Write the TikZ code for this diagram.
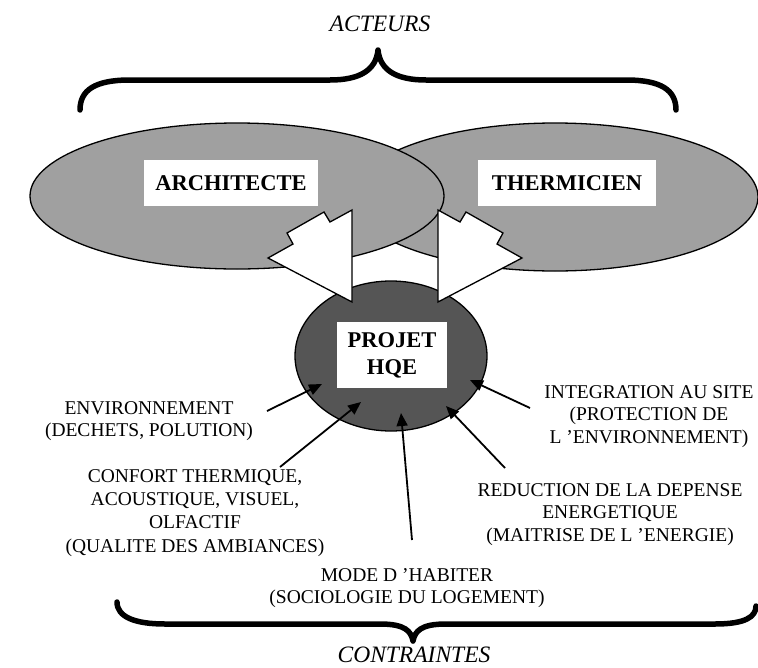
\documentclass[tikz,border=0pt]{standalone}
\usepackage{fontspec}
\setmainfont{Liberation Serif}
\usetikzlibrary{shapes.geometric, arrows.meta, calc}
\definecolor{actorgray}{RGB}{160,160,160}
\definecolor{projetgray}{RGB}{85,85,85}

\begin{document}
\begin{tikzpicture}[
    x=1pt, y=-1pt,
    actor/.style={ellipse, draw=black, fill=#1, line width=1.3pt, inner sep=0pt},
    namebox/.style={rectangle, fill=white, align=center, inner sep=0pt, font=\fontsize{22.5}{27}\selectfont\bfseries},
    constraint/.style={align=center, anchor=north, inner sep=0pt, font=\fontsize{19.5}{22.5}\selectfont},
    heading/.style={inner sep=0pt, font=\fontsize{23.5}{28}\selectfont\itshape},
    brace/.style={line width=5.5pt, line join=round, line cap=round},
    blockarrow/.style={draw=black, fill=white, line width=1.3pt},
    arrow/.style={-{Triangle[length=13pt, width=11pt]}, line width=1.8pt}
]
\useasboundingbox (0,0) rectangle (758,667);

% Actors
\node[actor=actorgray, minimum width=406pt, minimum height=148pt] (thermellipse) at (555,197) {};
\node[actor=actorgray, minimum width=414pt, minimum height=146pt] (archellipse) at (237,196) {};
\node[namebox, minimum width=174pt, minimum height=46pt] (architecte) at (231,183) {ARCHITECTE};
\node[namebox, minimum width=178pt, minimum height=46pt] (thermicien) at (567,183) {THERMICIEN};

% Project
\node[actor=projetgray, minimum width=192pt, minimum height=150pt] (projetellipse) at (391,356) {};

% Block arrows towards the project
\draw[blockarrow] (352,210) -- (330,222) -- (324,212) -- (287,233) -- (293,244) -- (268,258) -- (352,302) -- cycle;
\draw[blockarrow] (438,210) -- (460,222) -- (466,212) -- (503,233) -- (497,244) -- (522,258) -- (438,302) -- cycle;

\node[namebox, minimum width=110pt, minimum height=66pt] (projet) at (392,355) {PROJET\\HQE};

% Constraints
\node[constraint] (environnement) at (149,401) {ENVIRONNEMENT\\(DECHETS, POLUTION)};
\node[constraint, font=\fontsize{19.5}{23.3}\selectfont] (confort) at (195,469) {CONFORT THERMIQUE,\\ACOUSTIQUE, VISUEL,\\OLFACTIF\\(QUALITE DES AMBIANCES)};
\node[constraint] (habiter) at (407,568) {MODE D 'HABITER\\(SOCIOLOGIE DU LOGEMENT)};
\node[constraint] (energie) at (610,483) {REDUCTION DE LA DEPENSE\\ENERGETIQUE\\(MAITRISE DE L 'ENERGIE)};
\node[constraint] (site) at (649,385) {INTEGRATION AU SITE\\(PROTECTION DE\\L 'ENVIRONNEMENT)};

% Arrow ends
\coordinate (envtail) at (267,411);
\coordinate (envtip) at (322,384);
\coordinate (conftail) at (280,467);
\coordinate (conftip) at (361,402);
\coordinate (habtail) at (412,540);
\coordinate (habtip) at (401,413);
\coordinate (enertail) at (505,468);
\coordinate (enertip) at (446,406);
\coordinate (sitetail) at (530,408);
\coordinate (sitetip) at (470,380);

\draw[arrow] (envtail) -- (envtip);
\draw[arrow] (conftail) -- (conftip);
\draw[arrow] (habtail) -- (habtip);
\draw[arrow] (enertail) -- (enertip);
\draw[arrow] (sitetail) -- (sitetip);

% Braces and headings
\node[heading] (acteurs) at (380,24) {ACTEURS};
\node[heading] (contraintes) at (414,655) {CONTRAINTES};

\draw[brace] (80,110) .. controls (80,90) and (95,80) .. (130,80) -- (330,80)
    .. controls (360,80) and (376,70) .. (378,50)
    .. controls (380,70) and (396,80) .. (426,80) -- (626,80)
    .. controls (661,80) and (676,90) .. (676,110);
\draw[brace] (117,602) .. controls (117,617) and (135,624) .. (165,624) -- (380,624)
    .. controls (405,624) and (411,631) .. (413,641)
    .. controls (415,631) and (421,624) .. (446,624) -- (715,624)
    .. controls (745,624) and (756,617) .. (756,606);
\end{tikzpicture}
\end{document}
